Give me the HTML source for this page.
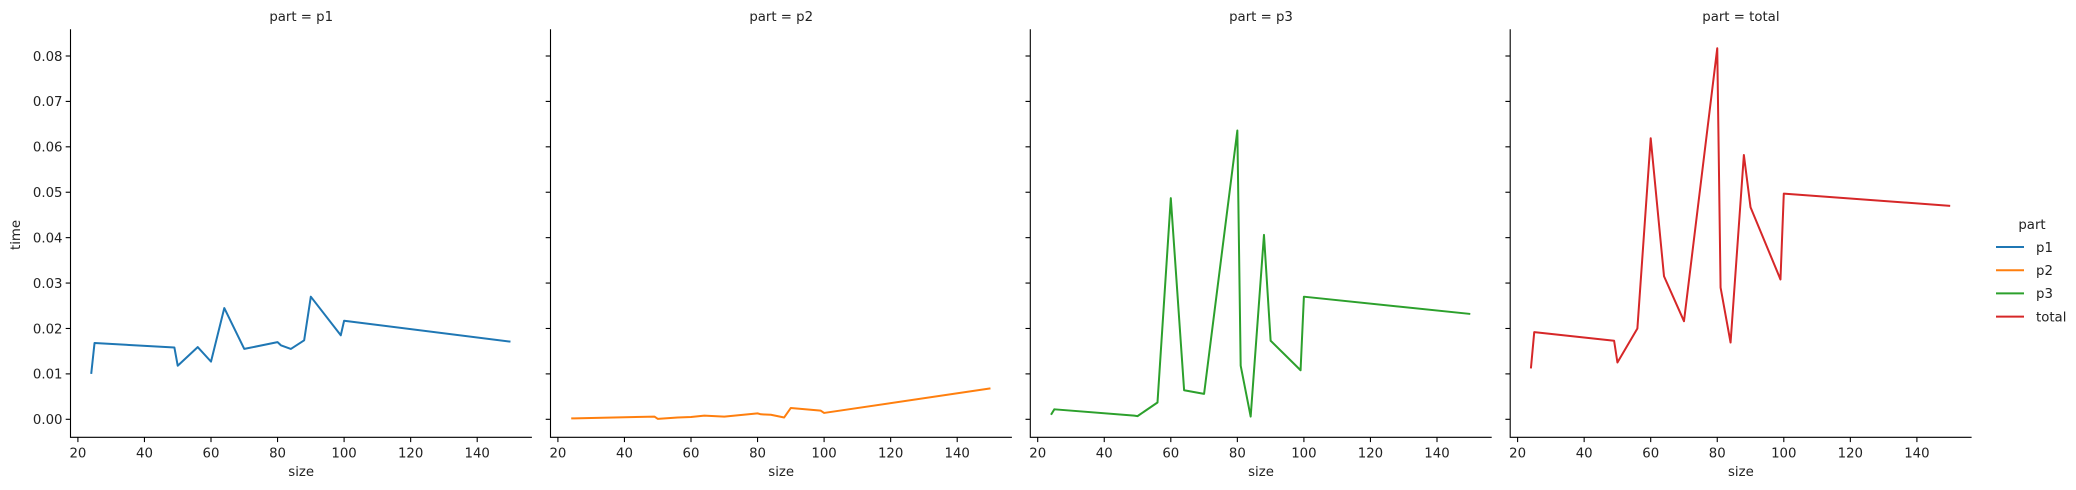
<!DOCTYPE html>
<html><head><meta charset="utf-8">
<style>
body{margin:0;background:#fff;}
svg{display:block;font-family:"DejaVu Sans","Liberation Sans",sans-serif;}
</style></head>
<body>
<svg id="chart" width="2076" height="490" viewBox="0 0 2076 490" xmlns="http://www.w3.org/2000/svg"></svg>
<script>
const sizes = [24,25,49,50,56,60,64,70,80,81,84,88,90,99,100,150];
const p1Values = [0.0100,0.0168,0.0158,0.0118,0.0159,0.0127,0.0245,0.0155,0.0170,0.0163,0.0155,0.0174,0.0270,0.0185,0.0217,0.0171];
const p2Values = [0.0002,0.0002,0.0006,0.0001,0.0004,0.0005,0.0008,0.0006,0.0013,0.0011,0.0010,0.0004,0.0025,0.0019,0.0014,0.0068];
const p3Values = [0.0010,0.0022,0.0008,0.0007,0.0037,0.0487,0.0064,0.0056,0.0636,0.0118,0.0006,0.0406,0.0173,0.0108,0.0270,0.0232];
const totalValues = [0.0112,0.0192,0.0173,0.0125,0.0200,0.0619,0.0315,0.0216,0.0817,0.0290,0.0169,0.0582,0.0467,0.0308,0.0497,0.0470];
const partNames = ["p1","p2","p3","total"];
const xTicks = [20,40,60,80,100,120,140];
const yTicks = [0,0.01,0.02,0.03,0.04,0.05,0.06,0.07,0.08];
const yTickLabels = ["0.00","0.01","0.02","0.03","0.04","0.05","0.06","0.07","0.08"];

const series = [p1Values,p2Values,p3Values,totalValues];
const colors = ["#1f77b4","#ff7f0e","#2ca02c","#d62728"];
const NS = "http://www.w3.org/2000/svg";
const svgEl = document.getElementById("chart");
const FS = "13.3";
function mk(tag, attrs, parent){
  const e = document.createElementNS(NS, tag);
  for (const k in attrs) e.setAttribute(k, attrs[k]);
  (parent||svgEl).appendChild(e);
  return e;
}
const panelLefts = [70.5,550.5,1030.3,1510.2];
const panelW = 461.4, axTop = 29.3, axBottom = 437.3;
const yScale = v => 419.3 - v/0.08*(419.3-56);
partNames.forEach((name,i)=>{
  const L = panelLefts[i];
  const xScale = v => L + 7.4 + (v-20)*(66.55/20);
  const g = mk("g",{});
  
  
  const t = mk("text",{x:L+panelW/2,y:21,"text-anchor":"middle","font-size":FS,fill:"#222"},g);
  t.textContent = "part = "+name;
  
  
  const ax = mk("path",{d:`M${L},${axTop} V${axBottom} H${L+panelW}`,stroke:"#000","stroke-width":"1.1",fill:"none"},g);
  
  
  yTicks.forEach((v,j)=>{
    mk("line",{x1:L-4.8,x2:L,y1:yScale(v),y2:yScale(v),stroke:"#000","stroke-width":"1.1"},g);
    if(i===0){
      const tl = mk("text",{x:L-8,y:yScale(v)+4.8,"text-anchor":"end","font-size":FS,fill:"#222"},g);
      tl.textContent = yTickLabels[j];
      
      
    }
  });
  xTicks.forEach(v=>{
    mk("line",{x1:xScale(v),x2:xScale(v),y1:axBottom,y2:axBottom+4.8,stroke:"#000","stroke-width":"1.1"},g);
    const tl = mk("text",{x:xScale(v),y:axBottom+20,"text-anchor":"middle","font-size":FS,fill:"#222"},g);
    tl.textContent = v;
    
    
  });
  const xl = mk("text",{x:L+panelW/2,y:476,"text-anchor":"middle","font-size":FS,fill:"#222"},g);
  xl.textContent = "size";
  
  
  const vals = series[i];
  const d = sizes.map((s,k)=>(k?"L":"M")+xScale(s).toFixed(2)+","+yScale(vals[k]).toFixed(2)).join(" ");
  const ln = mk("path",{d:d,stroke:colors[i],"stroke-width":"2",fill:"none","stroke-linejoin":"round"},g);
  
  
});
const yl = mk("text",{x:0,y:0,"text-anchor":"middle","font-size":FS,fill:"#222",transform:"translate(20,235) rotate(-90)"});
yl.textContent = "time";


const lg = mk("g",{});


const lt = mk("text",{x:2032,y:229,"text-anchor":"middle","font-size":FS,fill:"#222"},lg);
lt.textContent = "part";


partNames.forEach((name,i)=>{
  const yy = 247 + i*23.2;
  const e = mk("g",{},lg);
  
  
  mk("line",{x1:1996,x2:2024,y1:yy,y2:yy,stroke:colors[i],"stroke-width":"2"},e);
  const tx = mk("text",{x:2036,y:yy+4.8,"font-size":FS,fill:"#222"},e);
  tx.textContent = name;
});
</script>
</body></html>
